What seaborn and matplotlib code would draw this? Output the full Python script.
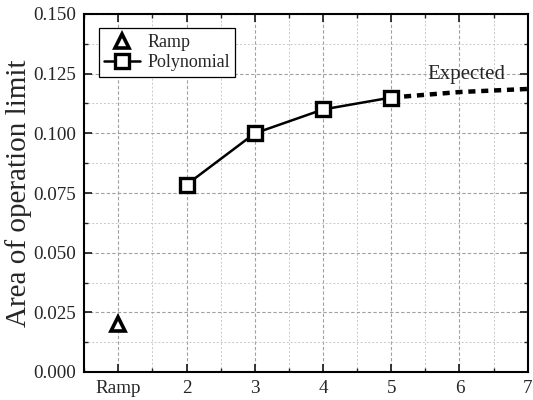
import matplotlib
matplotlib.use("Agg")
import matplotlib.pyplot as plt
import seaborn as sns
import pandas as pd
from matplotlib.ticker import MultipleLocator

# Data
ramp_x = [1]
ramp_y = [0.020]
poly_x = [2, 3, 4, 5]
poly_y = [0.0785, 0.100, 0.110, 0.115]
exp_x = [5, 6, 7]
exp_y = [0.115, 0.1173, 0.1186]
xtick_pos = [1, 2, 3, 4, 5, 6, 7]
xtick_labels = ["Ramp", "2", "3", "4", "5", "6", "7"]
ytick_vals = [0.000, 0.025, 0.050, 0.075, 0.100, 0.125, 0.150]

sns.set_style("ticks")
plt.rcParams['font.family'] = ['Liberation Serif', 'DejaVu Serif']

fig, ax = plt.subplots(figsize=(5.33, 4.0), dpi=100)
fig.subplots_adjust(left=0.158, right=0.99, top=0.965, bottom=0.07)

df_poly = pd.DataFrame({"x": poly_x, "y": poly_y})
df_exp = pd.DataFrame({"x": exp_x, "y": exp_y})

sns.lineplot(data=df_exp, x="x", y="y", ax=ax, color="black", lw=3.2,
             linestyle=(0, (1.6, 1.3)), zorder=3)
sns.lineplot(data=df_poly, x="x", y="y", ax=ax, color="black", lw=1.8,
             marker="s", markersize=9.5, markerfacecolor="white",
             markeredgecolor="black", markeredgewidth=2.4, label="Polynomial", zorder=4)
ax.plot(ramp_x, ramp_y, linestyle="none", marker="^", markersize=10.5,
        markerfacecolor="white", markeredgecolor="black", markeredgewidth=2.6,
        label="Ramp", zorder=4)

ax.text(6.1, 0.1245, "Expected", fontsize=15, ha="center", va="center")

ax.set_xlim(0.5, 7)
ax.set_ylim(0, 0.150)
ax.set_xticks(xtick_pos)
ax.set_xticklabels(xtick_labels)
ax.set_yticks(ytick_vals)
ax.set_yticklabels([f"{v:.3f}" for v in ytick_vals])
ax.xaxis.set_minor_locator(MultipleLocator(0.5))
ax.yaxis.set_minor_locator(MultipleLocator(0.0125))
ax.set_xlabel("")
ax.set_ylabel("Area of operation limit", fontsize=21, labelpad=0.5)

ax.tick_params(which="major", direction="in", length=6, width=1.3,
               top=True, right=True, labelsize=13.8, pad=6)
ax.tick_params(which="minor", direction="in", length=3, width=1.0,
               top=True, right=True)
for s in ax.spines.values():
    s.set_linewidth(1.5)
    s.set_color("black")

ax.grid(which="major", color="#a0a0a0", linestyle=(0, (3, 2)), linewidth=0.8)
ax.grid(which="minor", color="#c8c8c8", linestyle=(0, (2, 2)), linewidth=0.7)
ax.set_axisbelow(True)

h, l = ax.get_legend_handles_labels()
order = [l.index("Ramp"), l.index("Polynomial")]
leg = ax.legend([h[i] for i in order], [l[i] for i in order], loc="upper left",
                fontsize=13, frameon=True, fancybox=False, edgecolor="black",
                framealpha=1, handlelength=2.0, handletextpad=0.4,
                borderpad=0.3, labelspacing=0.2, borderaxespad=0.8)
leg.get_frame().set_linewidth(0.9)

fig.savefig("out.png", dpi=100)
